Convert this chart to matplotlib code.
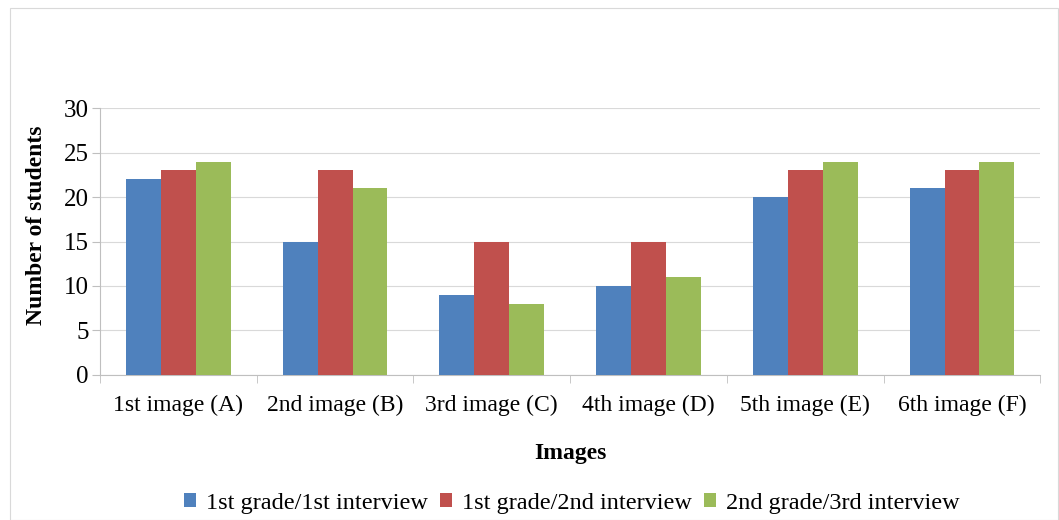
import matplotlib
matplotlib.use("Agg")
import matplotlib.pyplot as plt
import numpy as np

categories = ["1st image (A)", "2nd image (B)", "3rd image (C)", "4th image (D)", "5th image (E)", "6th image (F)"]
series_names = ["1st grade/1st interview", "1st grade/2nd interview", "2nd grade/3rd interview"]
s1 = [22, 15, 9, 10, 20, 21]
s2 = [23, 23, 15, 15, 23, 23]
s3 = [24, 21, 8, 11, 24, 24]
colors = ["#4F81BD", "#C0504D", "#9BBB59"]

plt.rcParams['font.family'] = ['Liberation Serif', 'DejaVu Serif']

fig = plt.figure(figsize=(10.59, 5.2), dpi=100)
ax = fig.add_axes([0.0944, 0.279, 0.888, 0.513])

x = np.arange(len(categories))
w = 0.223
for i, (vals, name, c) in enumerate(zip([s1, s2, s3], series_names, colors)):
    ax.bar(x + (i - 1) * w, vals, width=w, color=c, label=name, zorder=3)

ax.set_xlim(-0.5, len(categories) - 0.5)
ax.set_ylim(0, 30)
ax.set_yticks(range(0, 31, 5))
ax.grid(axis='y', color='#D9D9D9', linewidth=0.8, zorder=0)
ax.set_xticks(x)
ax.set_xticklabels(categories, fontsize=17)
ax.tick_params(axis='x', length=0, pad=14)
ax.set_xticks(np.arange(-0.5, len(categories)), minor=True)
ax.tick_params(axis='x', which='minor', length=6, color='#BFBFBF')
ax.tick_params(axis='y', labelsize=18, length=6, color='#BFBFBF', pad=2)
for s in ['top', 'right']:
    ax.spines[s].set_visible(False)
for s in ['left', 'bottom']:
    ax.spines[s].set_color('#BFBFBF')

ax.set_xlabel("Images", fontsize=17, fontweight='bold', labelpad=20)
ax.set_ylabel("Number of students", fontsize=17, fontweight='bold')
ax.yaxis.set_label_coords(-0.056, 0.56)

fig.legend(loc='lower center', bbox_to_anchor=(0.54, -0.03), ncol=3, frameon=False,
           fontsize=17.5, handlelength=0.5, handleheight=0.5, handletextpad=0.4, columnspacing=0.5)

border = plt.Rectangle((0.009, 0.0), 0.99, 0.985, transform=fig.transFigure, fill=False,
                       edgecolor='#D9D9D9', linewidth=0.8)
fig.patches.append(border)

fig.savefig("out.png", dpi=100)
